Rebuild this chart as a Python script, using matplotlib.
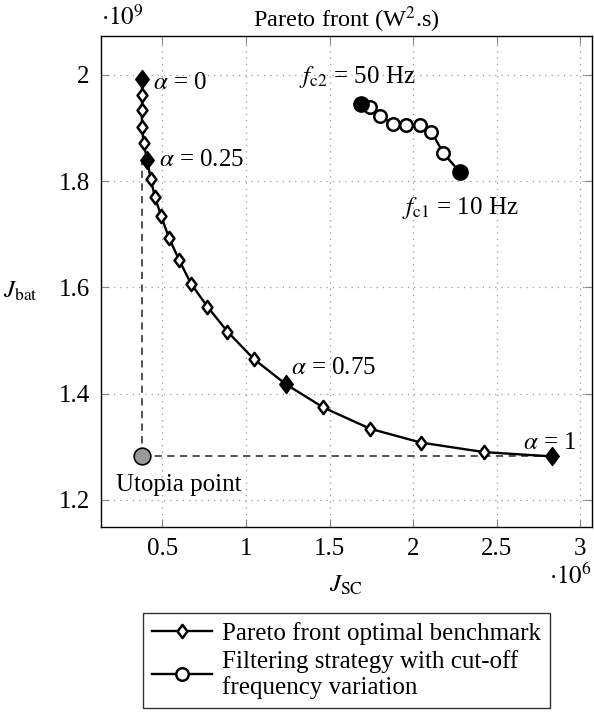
import matplotlib
matplotlib.use("Agg")
import matplotlib.pyplot as plt
from matplotlib.path import Path
import numpy as np

plt.rcParams['font.family'] = ['Liberation Serif', 'DejaVu Serif']
plt.rcParams['mathtext.fontset'] = 'stix'

# Pareto front (J_SC in 1e6, J_bat in 1e9), alpha = 0 ... 1 step 0.05
pareto_jsc = [0.378, 0.378, 0.378, 0.378, 0.388, 0.41, 0.43, 0.456, 0.492, 0.54, 0.60,
              0.671, 0.769, 0.889, 1.048, 1.238, 1.463, 1.743, 2.046, 2.425, 2.83]
pareto_jbat = [1.992, 1.962, 1.934, 1.902, 1.871, 1.839, 1.804, 1.770, 1.735, 1.693, 1.652,
               1.607, 1.564, 1.517, 1.465, 1.418, 1.374, 1.334, 1.308, 1.290, 1.282]
highlight_idx = [0, 5, 15, 20]
highlight_labels = [r'$\alpha$ = 0', r'$\alpha$ = 0.25', r'$\alpha$ = 0.75', r'$\alpha$ = 1']

# Filtering strategy with cut-off frequency variation (fc2 = 50 Hz ... fc1 = 10 Hz)
filt_jsc = [1.69, 1.74, 1.80, 1.88, 1.96, 2.04, 2.11, 2.18, 2.28]
filt_jbat = [1.945, 1.94, 1.922, 1.908, 1.905, 1.905, 1.893, 1.853, 1.817]

utopia = (0.378, 1.282)

diamond = Path([(0, 1), (0.75, 0), (0, -1), (-0.75, 0), (0, 1)],
               [Path.MOVETO, Path.LINETO, Path.LINETO, Path.LINETO, Path.CLOSEPOLY])

fig = plt.figure(figsize=(5.94, 7.21), dpi=100)
ax = fig.add_axes([0.170, 0.269, 0.8266, 0.681])

FS = 18

# dashed utopia lines
ax.plot([utopia[0], utopia[0]], [utopia[1], pareto_jbat[5]], ls=(0, (4, 3)), color='#444444', lw=1.3, zorder=2)
ax.plot([utopia[0], pareto_jsc[-1]], [utopia[1], utopia[1]], ls=(0, (4, 3)), color='#444444', lw=1.3, zorder=2)

ax.plot(pareto_jsc, pareto_jbat, color='black', lw=1.7, marker=diamond, ms=9.5,
        mfc='white', mec='black', mew=1.8, zorder=3,
        label='Pareto front optimal benchmark')
ax.plot([pareto_jsc[i] for i in highlight_idx], [pareto_jbat[i] for i in highlight_idx],
        ls='none', marker=diamond, ms=13, mfc='black', mec='black', zorder=4)

ax.plot(filt_jsc, filt_jbat, color='black', lw=1.7, marker='o', ms=9,
        mfc='white', mec='black', mew=1.8, zorder=3,
        label='Filtering strategy with cut-off\nfrequency variation')
ax.plot([filt_jsc[0], filt_jsc[-1]], [filt_jbat[0], filt_jbat[-1]], ls='none', marker='o',
        ms=11, mfc='black', mec='black', zorder=4)

ax.plot([utopia[0]], [utopia[1]], marker='o', ms=12, mfc='#999999', mec='black', mew=1.2,
        ls='none', zorder=5)

# annotations
ann_pos = [(0.444, 1.985), (0.48, 1.839), (1.27, 1.448), (2.66, 1.307)]
for (tx, ty), lab in zip(ann_pos, highlight_labels):
    ax.text(tx, ty, lab, fontsize=FS, ha='left', va='center')
ax.text(1.32, 1.996, r'$f_{\rm c2}$ = 50 Hz', fontsize=FS, ha='left', va='center')
ax.text(1.934, 1.75, r'$f_{\rm c1}$ = 10 Hz', fontsize=FS, ha='left', va='center')
ax.text(0.6, 1.228, 'Utopia point', fontsize=FS, ha='center', va='center')

ax.set_xlim(0.133, 3.07)
ax.set_ylim(1.149, 2.073)
ax.set_xticks([0.5, 1, 1.5, 2, 2.5, 3])
ax.set_xticklabels(['0.5', '1', '1.5', '2', '2.5', '3'])
ax.set_yticks([1.2, 1.4, 1.6, 1.8, 2])
ax.set_yticklabels(['1.2', '1.4', '1.6', '1.8', '2'])
ax.tick_params(direction='in', length=6, width=0.8, color='#888888', labelsize=FS,
               top=True, right=True, pad=8)
ax.grid(True, ls=(0, (1, 4)), color='#999999', lw=0.9)
for s in ax.spines.values():
    s.set_linewidth(1.0)

ax.set_xlabel(r'$J_{\rm SC}$', fontsize=FS, labelpad=10)
ax.set_ylabel(r'$J_{\rm bat}$', fontsize=FS, rotation=0, va='center', ha='center')
ax.yaxis.set_label_coords(-0.165, 0.48)
ax.set_title('Pareto front (W$^2$.s)', fontsize=FS - 0.5, pad=6)
ax.text(0.0, 1.013, r'$\cdot 10^9$', transform=ax.transAxes, fontsize=FS, ha='left', va='bottom')
ax.text(1.0, -0.075, r'$\cdot 10^6$', transform=ax.transAxes, fontsize=FS, ha='right', va='top')

leg = ax.legend(loc='upper center', bbox_to_anchor=(0.5, -0.175), fontsize=FS,
                frameon=True, fancybox=False, edgecolor='black', handlelength=2.4,
                borderpad=0.35, labelspacing=0.2, handletextpad=0.4, borderaxespad=0)
leg.get_frame().set_linewidth(1.0)

fig.savefig('out.png', dpi=100)
